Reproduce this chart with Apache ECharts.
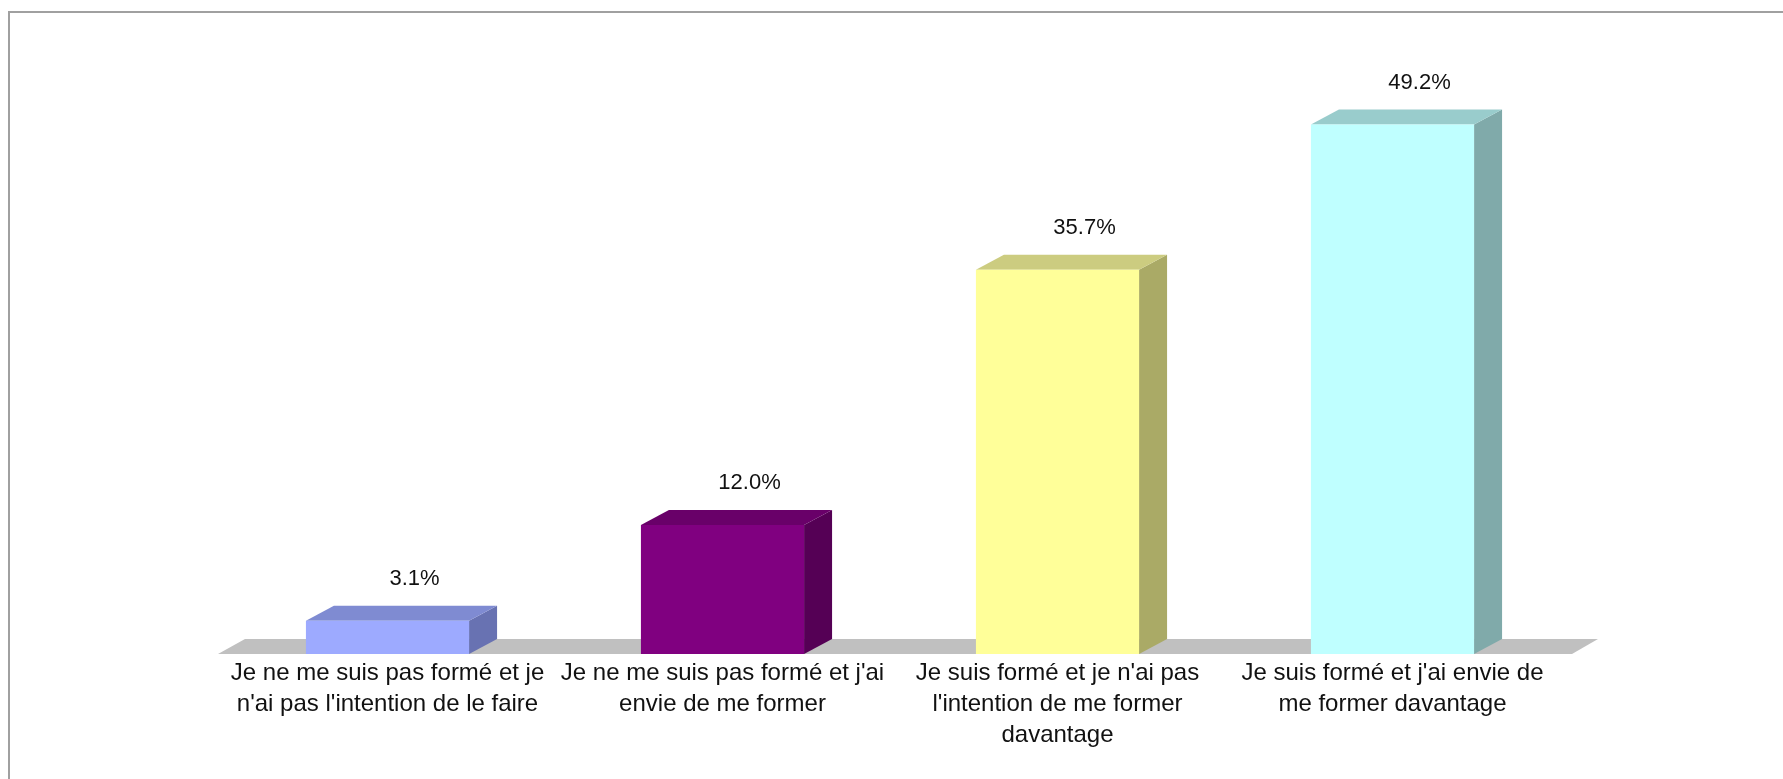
<!DOCTYPE html>
<html>
<head>
<meta charset="utf-8">
<script src="https://cdn.jsdelivr.net/npm/echarts@6/dist/echarts.min.js"></script>
<style>
  html, body { margin: 0; padding: 0; background: #fff; }
  #chart { width: 1783px; height: 779px; }
</style>
</head>
<body>
<div id="chart"></div>
<script>
// catégories (retours à la ligne comme dans l'original)
var categories = [
    "Je ne me suis pas formé et je\nn'ai pas l'intention de le faire",
    "Je ne me suis pas formé et j'ai\nenvie de me former",
    "Je suis formé et je n'ai pas\nl'intention de me former\ndavantage",
    "Je suis formé et j'ai envie de\nme former davantage"
];
var values = [3.1, 12.0, 35.7, 49.2];

// couleurs façon Excel 3D : face avant, dessus, côté
var frontColors = ['#9DAAFF', '#800080', '#FFFF99', '#BFFFFF'];
var topColors = ['#7F8BD2', '#690069', '#CCCC80', '#99CCCC'];
var sideColors = ['#6872B2', '#550055', '#AAAA66', '#80AAAA'];

var DX = 28, DY = 15;
var FONT = '"Liberation Sans", Arial, sans-serif';

var myChart = echarts.init(document.getElementById('chart'));

function renderFloor(params, api) {
    var cs = params.coordSys;
    var yb = cs.y + cs.height;
    return {
        type: 'polygon',
        shape: {
            points: [
                [cs.x - 2, yb],
                [cs.x + cs.width + 12, yb],
                [cs.x + cs.width + 38, yb - DY],
                [cs.x + 25, yb - DY]
            ]
        },
        style: { fill: '#C0C0C0' }
    };
}

function renderBar(params, api) {
    var i = api.value(0);
    var v = api.value(1);
    var base = api.coord([i, 0]);
    var top = api.coord([i, v]);
    var w = api.size([1, 0])[0] * 0.487;
    var x0 = base[0] - w / 2, x1 = base[0] + w / 2;
    var y0 = base[1], y1 = top[1];
    return {
        type: 'group',
        children: [
            {
                type: 'polygon',
                shape: { points: [[x1, y0], [x1 + DX, y0 - DY], [x1 + DX, y1 - DY], [x1, y1]] },
                style: { fill: sideColors[i] }
            },
            {
                type: 'polygon',
                shape: { points: [[x0, y1], [x1, y1], [x1 + DX, y1 - DY], [x0 + DX, y1 - DY]] },
                style: { fill: topColors[i] }
            },
            {
                type: 'rect',
                shape: { x: x0, y: y1, width: w, height: y0 - y1 },
                style: { fill: frontColors[i] }
            },
            {
                type: 'text',
                style: {
                    text: v.toFixed(1) + '%',
                    x: base[0] + 27,
                    y: y1 - 42,
                    align: 'center',
                    verticalAlign: 'middle',
                    font: '22px ' + FONT,
                    fill: '#111'
                }
            }
        ]
    };
}

var option = {
    animation: false,
    backgroundColor: '#fff',
    graphic: [{
        type: 'rect',
        shape: { x: 9, y: 12, width: 1800, height: 800 },
        style: { fill: 'none', stroke: '#A0A0A0', lineWidth: 2 },
        silent: true
    }],
    grid: { left: 220, width: 1340, top: 116, bottom: 125 },
    xAxis: {
        type: 'category',
        data: categories,
        axisLine: { show: false },
        axisTick: { show: false },
        axisLabel: {
            interval: 0,
            margin: 4,
            fontSize: 24,
            lineHeight: 31,
            fontFamily: FONT,
            color: '#111'
        }
    },
    yAxis: {
        type: 'value',
        min: 0,
        max: 50,
        show: false
    },
    series: [
        {
            type: 'custom',
            renderItem: renderFloor,
            data: [[0, 0]],
            silent: true,
            z: 1
        },
        {
            type: 'custom',
            renderItem: renderBar,
            data: values.map(function (v, i) { return [i, v]; }),
            encode: { x: 0, y: 1 },
            z: 2
        }
    ]
};

myChart.setOption(option);
</script>
</body>
</html>
